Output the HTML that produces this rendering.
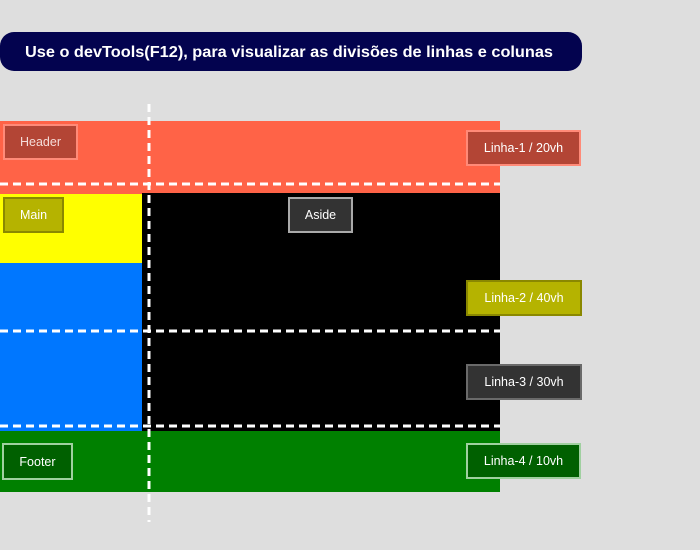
<!DOCTYPE html>
<html><head><style>html,body{margin:0;padding:0;background:#dedede;}svg{display:block}</style></head>
<body>
<svg width="700" height="550" xmlns="http://www.w3.org/2000/svg" font-family="Liberation Sans, sans-serif">
<rect width="700" height="550" fill="#dedede"/>
<rect x="0" y="32" width="582" height="39" rx="14" fill="#03034f"/>
<text x="289" y="57" text-anchor="middle" fill="#fff" font-size="16" font-weight="bold" textLength="528" lengthAdjust="spacingAndGlyphs">Use o devTools(F12), para visualizar as divisões de linhas e colunas</text>
<rect x="0" y="121" width="500" height="73" fill="#ff6347"/>
<rect x="142" y="193" width="358" height="239" fill="#000"/>
<rect x="0" y="194" width="142" height="69" fill="#ffff00"/>
<rect x="0" y="263" width="142" height="169" fill="#0077ff"/>
<rect x="0" y="431" width="500" height="61" fill="#008000"/>
<g stroke="#fff" stroke-width="3" stroke-dasharray="8 5">
<line x1="0" y1="184" x2="500" y2="184"/>
<line x1="0" y1="331" x2="500" y2="331"/>
<line x1="0" y1="426" x2="500" y2="426"/>
<line x1="149" y1="104" x2="149" y2="522"/>
</g>
<g font-size="12.5" fill="#fff" text-anchor="middle">
<rect x="4" y="125" width="73" height="34" fill="#b34535" stroke="#ff8a78" stroke-width="2"/>
<text x="40.5" y="146" fill="#f5dcd8">Header</text>
<rect x="4" y="198" width="59" height="34" fill="#b5b300" stroke="#8a8800" stroke-width="2"/>
<text x="33.5" y="219">Main</text>
<rect x="289" y="198" width="63" height="34" fill="#333" stroke="#aaa" stroke-width="2"/>
<text x="320.5" y="219">Aside</text>
<rect x="3" y="444" width="69" height="35" fill="#006000" stroke="#a0d0a0" stroke-width="2"/>
<text x="37.5" y="466">Footer</text>
<rect x="467" y="131" width="113" height="34" fill="#b34535" stroke="#ff8a78" stroke-width="2"/>
<text x="523.5" y="152">Linha-1 / 20vh</text>
<rect x="467" y="281" width="114" height="34" fill="#b5b300" stroke="#8a8800" stroke-width="2"/>
<text x="524" y="302">Linha-2 / 40vh</text>
<rect x="467" y="365" width="114" height="34" fill="#333" stroke="#6a6a6a" stroke-width="2"/>
<text x="524" y="386">Linha-3 / 30vh</text>
<rect x="467" y="444" width="113" height="34" fill="#006000" stroke="#a0d0a0" stroke-width="2"/>
<text x="523.5" y="465">Linha-4 / 10vh</text>
</g>
</svg>
</body></html>
